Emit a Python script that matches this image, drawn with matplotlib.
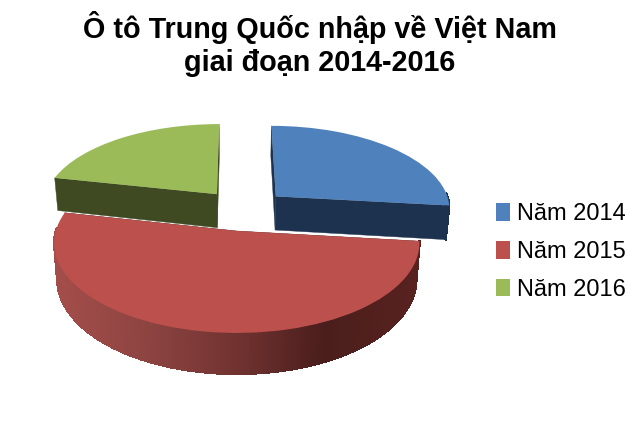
import numpy as np
import matplotlib
matplotlib.use("Agg")
import matplotlib.pyplot as plt
from matplotlib.transforms import Transform
from matplotlib.collections import PolyCollection

labels = ["Năm 2014", "Năm 2015", "Năm 2016"]
values = [26.8, 51.6, 21.6]
colors = ["#4f81bd", "#bc504d", "#9bbb59"]
wall_colors = ["#1d324f", "#5a2522", "#3f4a22"]
title = "Ô tô Trung Quốc nhập về Việt Nam\ngiai đoạn 2014-2016"

CX, CY, A, B, K = 236.8, 231.0, 88.4, 181.0, 0.133
DEPTH, SHRINK = 35.5, 0.983
origin = [0.0, 0.0]


def project(u, v, lower=False):
    u = u - origin[0]
    v = v - origin[1]
    w = 1 + K * v
    x = B * u / w
    y = CY - A * v / w
    if lower:
        x = x * SHRINK
        y = y + DEPTH / w
    return CX + x, y


class Ground(Transform):
    input_dims = output_dims = 2
    is_affine = False

    def transform_non_affine(self, pts):
        pts = np.asarray(pts, float)
        x, y = project(pts[:, 0], pts[:, 1])
        return np.column_stack([x, y])

    def inverted(self):
        raise NotImplementedError


def red_shade(x):
    xs = [53, 150, 240, 325, 420]
    rs = [165, 140, 112, 74, 88]
    gs = [78, 68, 50, 30, 34]
    bs = [75, 65, 48, 28, 31]
    return (np.interp(x, xs, rs) / 255, np.interp(x, xs, gs) / 255, np.interp(x, xs, bs) / 255)


plt.rcParams["font.family"] = ["Liberation Sans", "DejaVu Sans"]
fig = plt.figure(figsize=(6.4, 4.26), dpi=100, facecolor="white")
ax = fig.add_axes([0, 0, 1, 1])

wedges, _ = ax.pie(values, colors=colors, explode=[0.25] * 3, startangle=90,
                   counterclock=False, radius=1, wedgeprops=dict(linewidth=0))
ax.set_aspect("auto")
ax.set_xlim(0, 640)
ax.set_ylim(426, 0)
ax.axis("off")
origin[0], origin[1] = wedges[1].center
ground = Ground()
draw_order = {2: 1, 0: 2, 1: 3}

for i, w in enumerate(wedges):
    base = draw_order[i] * 10
    w.set_transform(ground + ax.transData)
    w.set_zorder(base + 2)
    w.set_clip_on(False)
    cu, cv = w.center
    t = np.radians(np.linspace(w.theta1, w.theta2, 160))
    u = cu + np.cos(t)
    v = cv + np.sin(t)
    xt, yt = project(u, v)
    xb, yb = project(u, v, lower=True)
    polys, cols = [], []
    for j in range(len(t) - 1):
        if np.sin(t[j]) > 0.03 and np.sin(t[j + 1]) > 0.03:
            continue
        polys.append([(xt[j], yt[j]), (xt[j + 1], yt[j + 1]), (xb[j + 1], yb[j + 1]), (xb[j], yb[j])])
        cols.append(red_shade(0.5 * (xt[j] + xt[j + 1])) if i == 1 else wall_colors[i])
    ax0t, ay0t = project(np.array([cu]), np.array([cv]))
    ax0b, ay0b = project(np.array([cu]), np.array([cv]), lower=True)
    radial = []
    for k in (0, -1):
        radial.append([(ax0t[0], ay0t[0]), (xt[k], yt[k]), (xb[k], yb[k]), (ax0b[0], ay0b[0])])
    ax.add_collection(PolyCollection(radial, facecolors=wall_colors[i], edgecolors=wall_colors[i],
                                     linewidths=0.3, zorder=base), autolim=False)
    if polys:
        ax.add_collection(PolyCollection(polys, facecolors=cols, edgecolors=cols,
                                         linewidths=1.0, antialiaseds=False, zorder=base + 1), autolim=False)

leg = ax.legend(wedges, labels, loc="center left", bbox_to_anchor=(496 / 640, 1 - 252 / 426),
                frameon=False, fontsize=17, handlelength=0.6, handleheight=0.78,
                handletextpad=0.3, labelspacing=0.66, labelcolor="#000000",
                borderpad=0, borderaxespad=0)
leg.set_zorder(100)
fig.suptitle(title, x=320 / 640, y=1 - 44 / 426, va="center", ha="center",
             fontsize=20.7, fontweight="bold", linespacing=1.25, color="black")
fig.savefig("out.png", dpi=100, facecolor="white")
